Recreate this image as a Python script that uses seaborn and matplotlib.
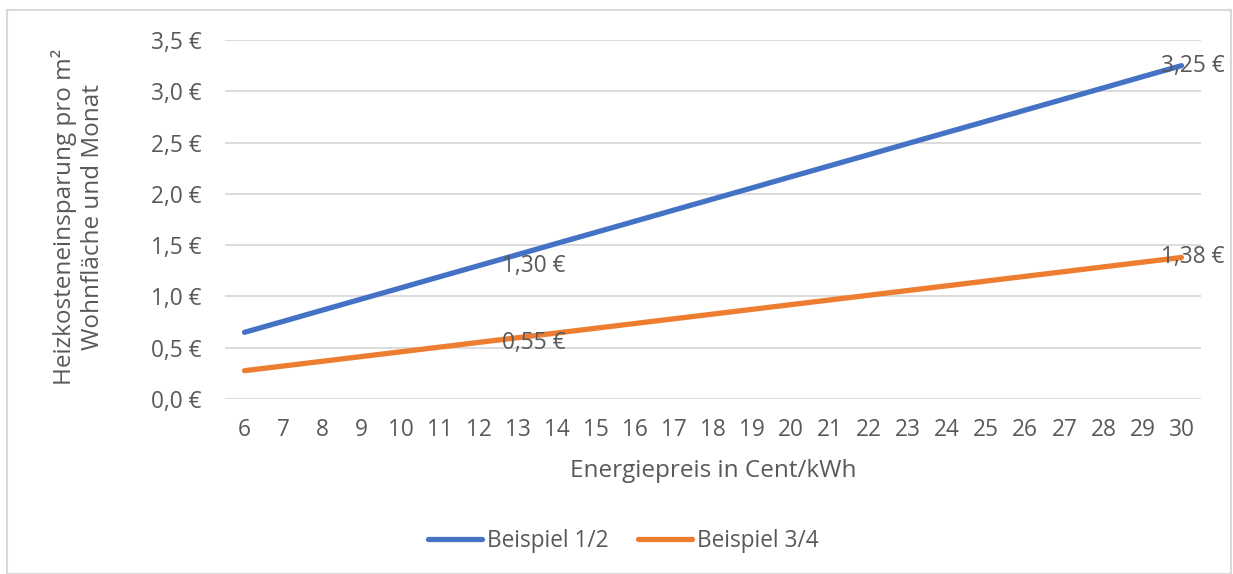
import matplotlib
matplotlib.use("Agg")
import matplotlib.pyplot as plt
import seaborn as sns
import pandas as pd
from matplotlib.patches import Rectangle
from matplotlib.lines import Line2D

prices = list(range(6, 31))
beispiel_12 = [0.650, 0.758, 0.867, 0.975, 1.083, 1.192, 1.300, 1.408, 1.517, 1.625, 1.733,
               1.842, 1.950, 2.058, 2.167, 2.275, 2.383, 2.492, 2.600, 2.708, 2.817, 2.925,
               3.033, 3.142, 3.250]
beispiel_34 = [0.276, 0.322, 0.368, 0.414, 0.460, 0.506, 0.552, 0.598, 0.644, 0.690, 0.736,
               0.782, 0.828, 0.874, 0.920, 0.966, 1.012, 1.058, 1.104, 1.150, 1.196, 1.242,
               1.288, 1.334, 1.380]
series_names = ["Beispiel 1/2", "Beispiel 3/4"]
y_ticks = [0.0, 0.5, 1.0, 1.5, 2.0, 2.5, 3.0, 3.5]
label_points = [(12, 1.30, "1,30 €"), (30, 3.25, "3,25 €"), (12, 0.55, "0,55 €"), (30, 1.38, "1,38 €")]

df = pd.DataFrame({
    "Preis": prices * 2,
    "Wert": beispiel_12 + beispiel_34,
    "Serie": [series_names[0]] * len(prices) + [series_names[1]] * len(prices),
})

sns.set_theme(style="white")
plt.rcParams["font.family"] = ["Open Sans", "DejaVu Sans"]
txt = "#595959"
fs = 16.3
fs_t = 17.5

fig = plt.figure(figsize=(12.33, 5.74), dpi=100)
W, H = 1233, 574
ax = fig.add_axes([225 / W, 1 - 399 / H, (1201 - 225) / W, (399 - 40) / H])

sns.lineplot(data=df, x="Preis", y="Wert", hue="Serie",
             palette=["#4472C4", "#ED7D31"], linewidth=3.8, ax=ax,
             solid_capstyle="round", legend=False)

ax.set_xlim(5.5, 30.5)
ax.set_ylim(0, 3.5)
ax.set_yticks(y_ticks)
ax.set_yticklabels([f"{v:.1f} €".replace(".", ",") for v in y_ticks])
ax.set_xticks(prices)
ax.set_xticklabels([str(p) for p in prices])
ax.yaxis.grid(True, color="#D9D9D9", linewidth=1.3)
ax.set_axisbelow(True)
for s in ax.spines.values():
    s.set_visible(False)
ax.tick_params(axis="both", length=0, labelsize=fs, colors=txt)
ax.tick_params(axis="y", pad=17)
ax.tick_params(axis="x", pad=14)
ax.set_xlabel("Energiepreis in Cent/kWh", fontsize=fs_t, color=txt, labelpad=12)
ax.set_ylabel("")
fig.text(78 / W, 1 - 217 / H, "Heizkosteneinsparung pro m²\nWohnfläche und Monat",
         rotation=90, ha="center", va="center", fontsize=fs_t, color=txt,
         multialignment="center", linespacing=1.2)

for x, y, lab in label_points:
    off = 17 if x == 12 else -15
    ax.annotate(lab, (x, y), xytext=(off, 0), textcoords="offset points",
                ha="left", va="center", fontsize=fs, color=txt)

handles = [Line2D([], [], color="#4472C4", lw=3.8, solid_capstyle="round"),
           Line2D([], [], color="#ED7D31", lw=3.8, solid_capstyle="round")]
fig.legend(handles, series_names, loc="center", bbox_to_anchor=(623 / W, 1 - 541 / H),
           ncol=2, frameon=False, fontsize=fs, labelcolor=txt,
           handlelength=2.4, handletextpad=0.2, columnspacing=1.3)

fig.add_artist(Rectangle((7 / W, 0), (1231 - 7) / W, 1 - 10 / H, transform=fig.transFigure,
                         fill=False, edgecolor="#D9D9D9", linewidth=1.5))

fig.savefig("out.png", dpi=100)
